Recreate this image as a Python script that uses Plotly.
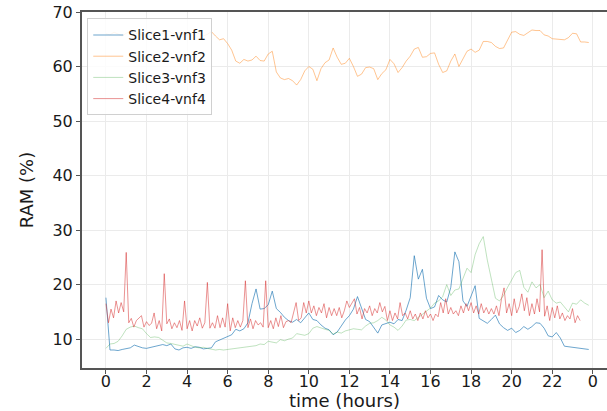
import numpy as np
import plotly.graph_objects as go

# ---- data (RAM %, sampled every STEP hours) ----
STEP_A = 0.2     # Slice1, Slice2, Slice3
STEP_B = 0.125   # Slice4

slice1 = [17.6, 8.0, 8.0, 7.9, 8.1, 8.2, 8.4, 8.9, 8.6, 8.4,
          8.3, 8.5, 8.7, 8.9, 9.0, 8.8, 9.1, 8.2, 8.0, 8.4,
          8.5, 8.3, 8.6, 8.5, 8.2, 8.3, 8.4, 9.5, 9.8, 10.1,
          10.4, 10.8, 11.8, 11.5, 11.9, 13.0, 16.5, 19.2, 15.5, 15.6,
          16.3, 18.8, 15.6, 14.9, 14.0, 13.4, 13.1, 13.6, 13.0, 13.8,
          14.8, 13.6, 13.4, 12.6, 12.0, 11.7, 10.8, 11.3, 12.4, 13.5,
          14.3, 15.5, 17.8, 15.5, 13.6, 13.2, 12.2, 11.1, 12.6, 12.9,
          13.1, 12.8, 13.6, 13.4, 15.3, 17.6, 25.3, 21.0, 22.8, 17.5,
          15.6, 15.9, 18.0, 17.2, 16.8, 19.5, 26.0, 24.2, 17.0, 16.0,
          18.0, 19.8, 13.8, 13.3, 12.9, 13.6, 14.4, 12.8, 12.1, 11.6,
          12.0, 11.2, 11.6, 12.3, 11.8, 12.3, 13.0, 12.9, 12.0, 10.6,
          10.4, 11.2, 10.2, 8.7, 8.6, 8.6, 8.4, 8.3, 8.2, 8.1]

slice2 = [66.0, 65.8, 66.3, 66.0, 65.6, 66.1, 66.4, 65.9, 66.2, 65.7,
          66.0, 66.5, 66.2, 65.8, 66.1, 66.6, 66.3, 65.9, 66.2, 66.0,
          65.7, 66.1, 66.4, 66.0, 65.6, 65.9, 66.4, 65.6, 64.9, 65.1,
          64.2, 63.0, 61.0, 60.6, 61.3, 61.0, 61.2, 61.9, 61.1, 61.0,
          62.3, 62.8, 59.0, 57.9, 57.6, 57.8, 57.4, 56.6, 57.6, 59.2,
          60.0, 59.5, 57.4, 59.6, 60.7, 61.2, 63.4, 61.7, 60.4, 60.6,
          61.5, 60.0, 58.2, 58.6, 59.8, 59.9, 59.6, 57.6, 58.7, 59.4,
          61.3, 60.5, 58.9, 59.8, 61.0, 61.9, 63.2, 63.5, 61.7, 61.8,
          62.4, 62.5, 60.4, 58.9, 59.2, 61.0, 62.3, 60.0, 61.3, 62.8,
          63.2, 62.6, 63.0, 64.6, 64.6, 64.4, 63.7, 63.3, 63.4, 65.0,
          66.3, 66.4, 65.9, 65.7, 66.2, 66.7, 66.6, 66.6, 65.8, 65.6,
          65.1, 65.0, 65.0, 64.9, 65.3, 66.1, 66.0, 64.5, 64.5, 64.4]

slice3 = [8.3, 9.1, 9.2, 9.6, 10.6, 11.8, 12.2, 12.4, 12.1, 11.9,
          11.0, 10.3, 10.4, 10.3, 9.8, 9.3, 9.2, 9.0, 8.9, 8.7,
          9.1, 8.8, 8.5, 8.4, 8.5, 8.3, 8.1, 8.0, 8.1, 8.0,
          8.1, 8.2, 8.2, 8.3, 8.4, 8.5, 8.6, 8.8, 9.1, 9.0,
          9.6, 9.4, 9.3, 9.9, 9.7, 10.0, 10.2, 11.0, 10.8, 10.7,
          11.0, 12.0, 12.3, 12.0, 11.8, 11.6, 10.9, 11.3, 11.1, 11.5,
          11.7, 11.9, 11.8, 11.7, 12.4, 12.9, 13.0, 13.4, 14.0, 13.5,
          12.6, 12.2, 11.6, 12.4, 13.5, 13.6, 13.4, 14.0, 14.6, 15.2,
          15.7, 16.6, 17.0, 17.8, 20.0, 18.0, 19.0, 19.2, 21.0, 23.0,
          22.2, 25.5, 27.5, 28.8, 24.5, 21.0, 17.5, 17.0, 18.0, 19.5,
          21.0, 22.2, 22.6, 19.5, 18.6, 20.5, 19.4, 20.0, 17.6, 18.8,
          17.2, 16.6, 16.8, 15.8, 15.0, 16.6, 16.4, 17.2, 16.6, 16.2]

slice4 = [16.5, 13.0, 15.5, 13.9, 17.0, 14.8, 16.7, 15.0,
          25.9, 13.0, 13.8, 12.2, 13.4, 13.8, 14.3, 12.2,
          13.2, 12.5, 12.9, 14.8, 11.9, 13.4, 11.5, 22.0,
          12.8, 13.7, 11.9, 13.0, 12.1, 13.4, 11.6, 17.0,
          11.9, 13.4, 11.5, 13.4, 12.4, 13.9, 12.0, 13.0,
          20.4, 12.0, 13.0, 12.0, 14.3, 12.1, 13.9, 12.2,
          16.5, 11.5, 13.9, 12.1, 13.4, 12.2, 13.4, 20.7,
          12.1, 13.7, 11.9, 13.4, 12.6, 13.0, 12.2, 20.7,
          12.1, 13.4, 11.9, 13.9, 12.3, 14.3, 12.1, 13.2,
          13.4, 13.0, 14.8, 16.7, 13.4, 13.9, 16.7, 14.8,
          17.0, 14.8, 16.1, 14.3, 15.8, 14.8, 16.5, 13.9,
          15.8, 14.3, 15.6, 14.3, 15.8, 13.9, 15.2, 17.0,
          15.8, 16.7, 17.4, 14.6, 15.8, 13.7, 15.6, 14.8,
          16.1, 14.3, 15.6, 14.8, 16.7, 15.0, 16.0, 13.4,
          15.2, 13.4, 14.8, 13.7, 16.7, 14.3, 14.8, 13.7,
          15.2, 13.7, 14.6, 13.4, 14.8, 13.7, 15.2, 13.9,
          14.6, 13.4, 14.6, 14.1, 16.7, 14.8, 17.4, 14.6,
          15.8, 14.6, 15.2, 14.3, 16.1, 14.8, 16.5, 15.2,
          16.7, 14.8, 16.1, 14.6, 16.5, 14.8, 15.8, 14.6,
          15.6, 14.6, 16.1, 14.3, 17.4, 19.4, 14.8, 16.5,
          14.3, 17.4, 14.8, 16.0, 18.3, 15.2, 17.6, 14.3,
          16.5, 14.6, 17.4, 15.0, 26.4, 14.2, 16.1, 13.4,
          15.8, 13.9, 16.1, 13.7, 14.8, 13.4, 14.3, 13.7,
          15.6, 13.0, 14.3, 13.4]

series_names = ["Slice1-vnf1", "Slice2-vnf2", "Slice3-vnf3", "Slice4-vnf4"]
x_tick_vals = [0, 2, 4, 6, 8, 10, 12, 14, 16, 18, 20, 22, 24]
x_tick_text = ["0", "2", "4", "6", "8", "10", "12", "14", "16", "18", "20", "22", "0"]
y_tick_vals = [10, 20, 30, 40, 50, 60, 70]

colors = ["rgba(31,119,180,0.65)", "rgba(255,127,14,0.45)",
          "rgba(44,160,44,0.3)", "rgba(214,39,40,0.5)"]

data = [(slice1, STEP_A), (slice2, STEP_A), (slice3, STEP_A), (slice4, STEP_B)]

fig = go.Figure()
for (vals, step), name, col in zip(data, series_names, colors):
    t = np.arange(len(vals)) * step
    fig.add_trace(go.Scatter(x=t, y=vals, mode="lines", name=name,
                             line=dict(color=col, width=1)))

FONT = "DejaVu Sans"
fig.update_layout(
    width=607, height=411,
    margin=dict(l=82, r=0, t=12, b=43),
    paper_bgcolor="white", plot_bgcolor="white",
    font=dict(family=FONT, size=16, color="#1a1a1a"),
    showlegend=True,
    legend=dict(x=0.01, y=0.982, xanchor="left", yanchor="top",
                bgcolor="rgba(255,255,255,0.85)", bordercolor="#d0d0d0",
                borderwidth=1, font=dict(family=FONT, size=14, color="#1a1a1a"),
                itemwidth=30, tracegroupgap=0),
)
fig.update_xaxes(
    range=[-1.18, 24.7], tickmode="array", tickvals=x_tick_vals, ticktext=x_tick_text,
    showgrid=True, gridcolor="#ebebeb", gridwidth=1, zeroline=False,
    showline=True, linecolor="#555555", linewidth=2, mirror=True,
    ticks="outside", ticklen=4, tickcolor="#555555", ticklabelstandoff=-6,
    title=dict(text="time (hours)", font=dict(size=18, family=FONT), standoff=0),
    automargin=False,
)
fig.update_yaxes(
    range=[4.7, 70], tickmode="array", tickvals=y_tick_vals,
    showgrid=True, gridcolor="#ebebeb", gridwidth=1, zeroline=False,
    showline=True, linecolor="#555555", linewidth=2,
    ticks="outside", ticklen=4, tickcolor="#555555",
    title=dict(text="RAM (%)", font=dict(size=18, family=FONT), standoff=14),
    automargin=False,
)
fig.write_html("out.html")
